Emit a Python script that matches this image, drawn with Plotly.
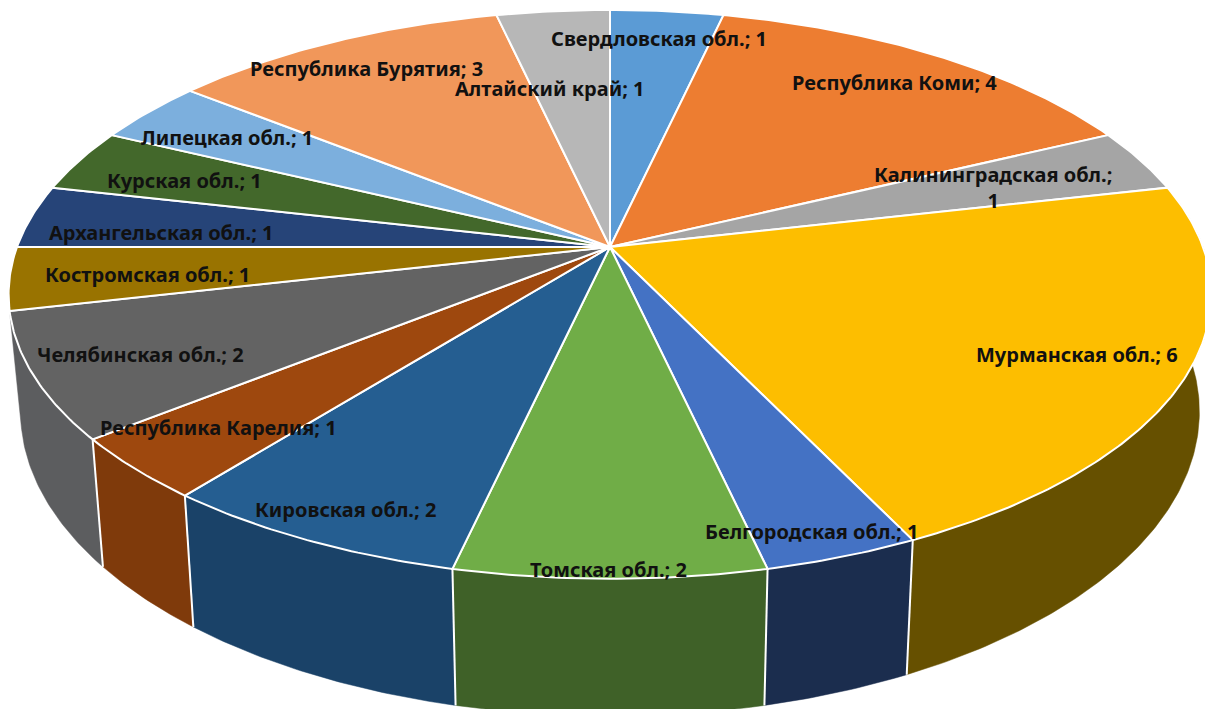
import math
import plotly.graph_objects as go

# ---- data ----
categories = ["Свердловская обл.", "Республика Коми", "Калининградская обл.", "Мурманская обл.",
              "Белгородская обл.", "Томская обл.", "Кировская обл.", "Республика Карелия",
              "Челябинская обл.", "Костромская обл.", "Архангельская обл.", "Курская обл.",
              "Липецкая обл.", "Республика Бурятия", "Алтайский край"]
values = [1, 4, 1, 6, 1, 2, 2, 1, 2, 1, 1, 1, 1, 3, 1]

# ---- styles ----
top_colors = ["#5B9BD5", "#ED7D31", "#A5A5A5", "#FDBE00", "#4472C4", "#70AD47", "#255E91", "#9E480E",
              "#636363", "#997300", "#264478", "#43682B", "#7CAFDD", "#F1975A", "#B7B7B7"]
side_colors = ["#3E6E9B", "#A8551F", "#6F6F6F", "#665000", "#1B2D4E", "#3F6128", "#1A4268", "#7F3A0B",
               "#5C5D5F", "#665000", "#1B2D4E", "#2C451C", "#53769A", "#A8653A", "#7B7B7B"]
label_xy = [(659, 38), (894, 82), (993, 187), (1077, 354), (811, 531), (608, 569), (345, 509), (218, 427),
            (140, 354), (147, 274), (161, 232), (184, 180), (227, 137), (366, 68), (550, 88)]
label_text = [f"{c}; {v}" for c, v in zip(categories, values)]
label_text[2] = "Калининградская обл.;<br>1"

# ---- projection of the tilted pie ----
W, H = 1205, 709
CX, CY, A, B, K = 610, 247, 593, 276.5, 0.1667


def top_point(angle):
    u, v = math.sin(angle), -math.cos(angle)
    w = 1 - K * v
    return CX + A * u / w, CY + B * v / w


def bottom_point(angle):
    x, y = top_point(angle)
    return CX + (x - CX) * 0.98, y + 114 + 0.07 * (y - CY)


total = sum(values)
fig = go.Figure()
edges = []
start = 0.0
for v in values:
    edges.append((start, start + v / total * 2 * math.pi))
    start = edges[-1][1]


def arc(fn, a0, a1):
    n = max(4, int((a1 - a0) / 0.01))
    return [fn(a0 + (a1 - a0) * i / n) for i in range(n + 1)]


LINE = dict(color="white", width=2)
for (a0, a1), c, name in zip(edges, side_colors, categories):
    mid = math.degrees((a0 + a1) / 2)
    if not 90 < mid < 260:  # only walls that face the viewer
        continue
    pts = arc(top_point, a0, a1) + arc(bottom_point, a0, a1)[::-1]
    pts.append(pts[0])
    fig.add_trace(go.Scatter(x=[p[0] for p in pts], y=[p[1] for p in pts], mode="lines", fill="toself",
                             fillcolor=c, line=dict(color=c, width=0.5), name=name, hoverinfo="skip",
                             showlegend=False))
# white seams between wall segments that face the viewer
for (a0, a1) in edges[:-1]:
    if math.radians(100) < a1 < math.radians(250):
        t, b = top_point(a1), bottom_point(a1)
        fig.add_trace(go.Scatter(x=[t[0], b[0]], y=[t[1], b[1]], mode="lines", line=LINE,
                                 hoverinfo="skip", showlegend=False))
for (a0, a1), c, name, v in zip(edges, top_colors, categories, values):
    pts = [(CX, CY)] + arc(top_point, a0, a1) + [(CX, CY)]
    fig.add_trace(go.Scatter(x=[p[0] for p in pts], y=[p[1] for p in pts], mode="lines", fill="toself",
                             fillcolor=c, line=LINE, name=name, hoverinfo="text",
                             text=f"{name}: {v}", showlegend=False))

for (x, y), t in zip(label_xy, label_text):
    fig.add_annotation(x=x, y=y, text=f"<b>{t}</b>", showarrow=False, xanchor="center", yanchor="middle",
                       font=dict(family="Noto Sans", size=20, color="#111111"), align="center")

fig.update_layout(width=W, height=H, margin=dict(l=0, r=0, t=0, b=0), paper_bgcolor="white",
                  plot_bgcolor="white", showlegend=False,
                  xaxis=dict(range=[0, W], visible=False, fixedrange=True),
                  yaxis=dict(range=[H, 0], visible=False, fixedrange=True))
fig.write_html("out.html", config=dict(displayModeBar=False),
               post_script="document.body.style.margin='0';document.body.style.overflow='hidden';")
